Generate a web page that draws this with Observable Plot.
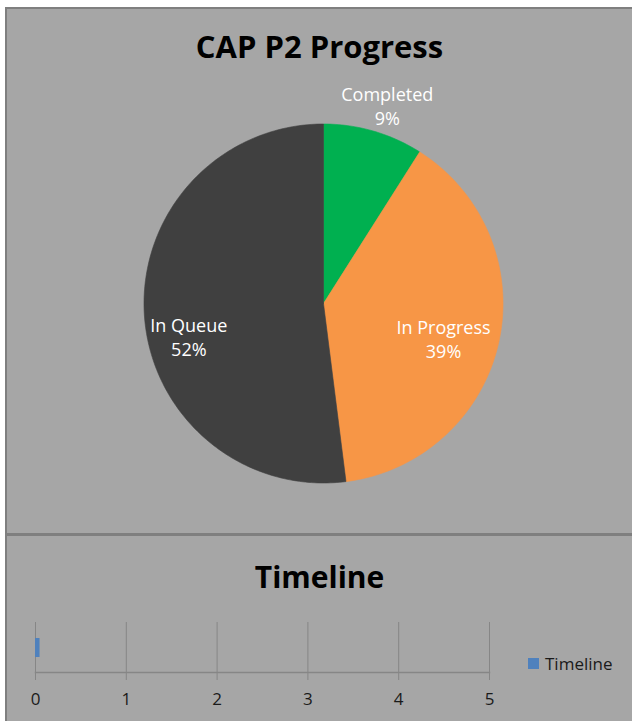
<!DOCTYPE html>
<html>
<head>
<meta charset="utf-8">
<script src="https://cdn.jsdelivr.net/npm/d3@7"></script>
<script src="https://cdn.jsdelivr.net/npm/@observablehq/plot@0.6"></script>
<style>
  body { margin:0; background:#fff; font-family:"Open Sans", sans-serif; }
  .abs { position:absolute; }
  .title { position:absolute; left:7px; width:625px; text-align:center; font-weight:700; color:#000; }
  svg { overflow:visible; }
</style>
</head>
<body>
<div class="abs" style="left:5px;top:7px;width:627px;height:714px;background:#a6a6a6;border-left:2px solid #7f7f7f;border-top:2px solid #7f7f7f;box-sizing:border-box"></div>
<div class="abs" style="left:7px;top:533px;width:625px;height:3px;background:#7f7f7f"></div>
<div class="title" id="pieTitle" style="top:25px;font-size:31px;line-height:42px">CAP P2 Progress</div>
<div class="abs" id="pie" style="left:7px;top:69px"></div>
<div class="title" id="tlTitle" style="top:556px;font-size:30px;line-height:42px">Timeline</div>
<div class="abs" id="tl" style="left:7px;top:611px"></div>
<div class="abs" id="legend" style="left:528px;top:652px;display:flex;align-items:center;font-size:17px;color:#1a1a1a">
  <span style="display:inline-block;width:11px;height:11px;background:#4f81bd;margin-right:6px"></span><span>Timeline</span>
</div>
<script>
// ---- data ----
const statusLabels = ["Completed", "In Progress", "In Queue"];
const statusPercents = [9, 39, 52];
const statusColors = ["#00b050", "#f79646", "#404040"];

const timelineCategories = ["Timeline"];
const timelineValues = [0.05];
const timelineTicks = [0, 1, 2, 3, 4, 5];

// ---- pie ----
const pieData = statusLabels.map((label, i) => ({label, value: statusPercents[i]}));
const arcs = d3.pie().sort(null).value(d => d.value).startAngle(0).endAngle(2 * Math.PI)(pieData);

const polyPoints = [];
for (const a of arcs) {
  polyPoints.push({label: a.data.label, x: 0, y: 0});
  const n = Math.max(2, Math.ceil((a.endAngle - a.startAngle) / (Math.PI / 180)));
  for (let k = 0; k <= n; k++) {
    const t = a.startAngle + (a.endAngle - a.startAngle) * k / n;
    polyPoints.push({label: a.data.label, x: Math.sin(t), y: Math.cos(t)});
  }
  polyPoints.push({label: a.data.label, x: 0, y: 0});
}

// label placement (layout): radius factor and angular nudge in degrees
const labelLayout = {"Completed": [1.15, 1.8], "In Progress": [0.70, 4.6], "In Queue": [0.775, -10.9]};
const labelPts = arcs.map(a => {
  const [rf, da] = labelLayout[a.data.label];
  const mid = (a.startAngle + a.endAngle) / 2 + da * Math.PI / 180;
  return {label: a.data.label, text: `${a.data.label}\n${a.data.value}%`, x: rf * Math.sin(mid), y: rf * Math.cos(mid)};
});

const R = 179.5, cx = 316, cy = 234;
const pie = Plot.plot({
  width: 625, height: 464, margin: 0,
  style: {background: "transparent", overflow: "visible"},
  x: {domain: [-1, 1], range: [cx - R, cx + R], axis: null},
  y: {domain: [-1, 1], range: [cy + R, cy - R], axis: null},
  color: {domain: statusLabels, range: statusColors},
  marks: [
    Plot.line(polyPoints, {x: "x", y: "y", z: "label", fill: "label", stroke: "label", strokeWidth: 0.6, curve: "linear"}),
    Plot.text(labelPts, {x: "x", y: "y", text: "text", fill: "#ffffff", fontSize: 18, fontFamily: "Open Sans", lineHeight: 1.33, lineAnchor: "middle", dy: -2})
  ]
});
document.getElementById("pie").appendChild(pie);

// ---- timeline ----
const tlData = timelineCategories.map((c, i) => ({cat: c, value: timelineValues[i]}));
const tl = Plot.plot({
  width: 625, height: 110,
  marginLeft: 28, marginRight: 143, marginTop: 11, marginBottom: 49,
  style: {background: "transparent", overflow: "visible", fontFamily: "Open Sans", fontSize: "17px", color: "#1a1a1a"},
  x: {domain: [0, 5], ticks: timelineTicks, label: null},
  y: {domain: timelineCategories, padding: 0.45, axis: null},
  marks: [
    Plot.gridX(timelineTicks, {stroke: "#868686", strokeOpacity: 1, strokeWidth: 1}),
    Plot.axisX(timelineTicks, {anchor: "bottom", label: null, tickSize: 8, tickPadding: 12, stroke: "#868686", strokeOpacity: 1, tickFormat: d => String(d), fill: "#1a1a1a", fontSize: 17}),
    Plot.frame({anchor: "bottom", stroke: "#868686", strokeWidth: 1.5}),
    Plot.barX(tlData, {y: "cat", x: "value", fill: "#4f81bd"})
  ]
});
document.getElementById("tl").appendChild(tl);
</script>
</body>
</html>
